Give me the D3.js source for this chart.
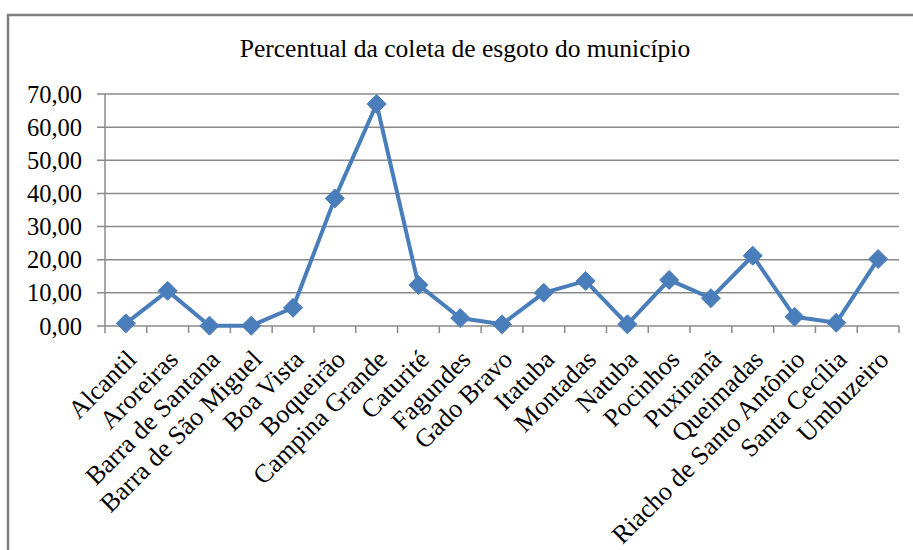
<!DOCTYPE html>
<html><head><meta charset="utf-8">
<script src="https://cdn.jsdelivr.net/npm/d3@7"></script>
<style>body{margin:0;background:#fff}svg{display:block}
text{font-family:"Liberation Serif","Times New Roman",Times,"DejaVu Serif",serif;}</style>
</head><body>
<script>
const categories = ["Alcantil","Aroreiras","Barra de Santana","Barra de São Miguel","Boa Vista","Boqueirão","Campina Grande","Caturité","Fagundes","Gado Bravo","Itatuba","Montadas","Natuba","Pocinhos","Puxinanã","Queimadas","Riacho de Santo Antônio","Santa Cecília","Umbuzeiro"];
const values = [0.8,10.6,0.1,0.1,5.5,38.5,67.0,12.4,2.4,0.5,10.0,13.6,0.5,13.9,8.4,21.2,2.8,1.0,20.2];
const yTicks = [0,10,20,30,40,50,60,70];
const title = "Percentual da coleta de esgoto do município";

const W = 913, H = 550;
const m = {left:105, right:14, top:94, bottom:224};
const svg = d3.select("body").append("svg").attr("width",W).attr("height",H);

svg.append("rect").attr("x",8).attr("y",15).attr("width",W+20).attr("height",H+20)
  .attr("fill","#fff").attr("stroke","#7f7f7f").attr("stroke-width",2.5);

svg.append("text").attr("x",465).attr("y",57).attr("text-anchor","middle")
  .attr("font-size",25.5).attr("fill","#000").text(title);

const x = d3.scaleBand().domain(categories).range([m.left, W-m.right]).padding(0);
const y = d3.scaleLinear().domain([0,70]).range([H-m.bottom, m.top]);

const g = svg.append("g");
g.selectAll("line.grid").data(yTicks).join("line")
  .attr("x1",m.left-8).attr("x2",W-m.right)
  .attr("y1",d=>y(d)).attr("y2",d=>y(d))
  .attr("stroke","#8a8a8a").attr("stroke-width",1.5);
g.append("line").attr("x1",m.left).attr("x2",m.left).attr("y1",y(70)).attr("y2",y(0))
  .attr("stroke","#8a8a8a").attr("stroke-width",1.5);
g.selectAll("text.yl").data(yTicks).join("text")
  .attr("x",82).attr("y",d=>y(d)).attr("dy","0.35em").attr("text-anchor","end")
  .attr("font-size",24.5).attr("fill","#000")
  .text(d=>d3.format(".2f")(d).replace(".",","));
const bounds = categories.map(c=>x(c)).concat([W-m.right]);
g.selectAll("line.xt").data(bounds).join("line")
  .attr("x1",d=>d).attr("x2",d=>d).attr("y1",y(0)).attr("y2",y(0)+7)
  .attr("stroke","#8a8a8a").attr("stroke-width",1.5);
g.selectAll("text.xl").data(categories).join("text")
  .attr("transform",d=>`translate(${x(d)+x.bandwidth()/2+12},${y(0)+35}) rotate(-45)`)
  .attr("text-anchor","end")
  .attr("font-size",26).attr("fill","#000").text(d=>d);

const cx = (d,i)=>x(categories[i])+x.bandwidth()/2;
const line = d3.line().x((d,i)=>cx(d,i)).y(d=>y(d));
g.append("path").datum(values).attr("d",line).attr("fill","none")
  .attr("stroke","#4a7ebb").attr("stroke-width",4).attr("stroke-linejoin","round");
const r = 9.5;
g.selectAll("path.mk").data(values).join("path")
  .attr("d",(d,i)=>{const px=cx(d,i),py=y(d);return `M${px},${py-r}L${px+r},${py}L${px},${py+r}L${px-r},${py}Z`;})
  .attr("fill","#4a7ebb").attr("stroke","#4a7ebb").attr("stroke-width",1);
</script>
</body></html>
